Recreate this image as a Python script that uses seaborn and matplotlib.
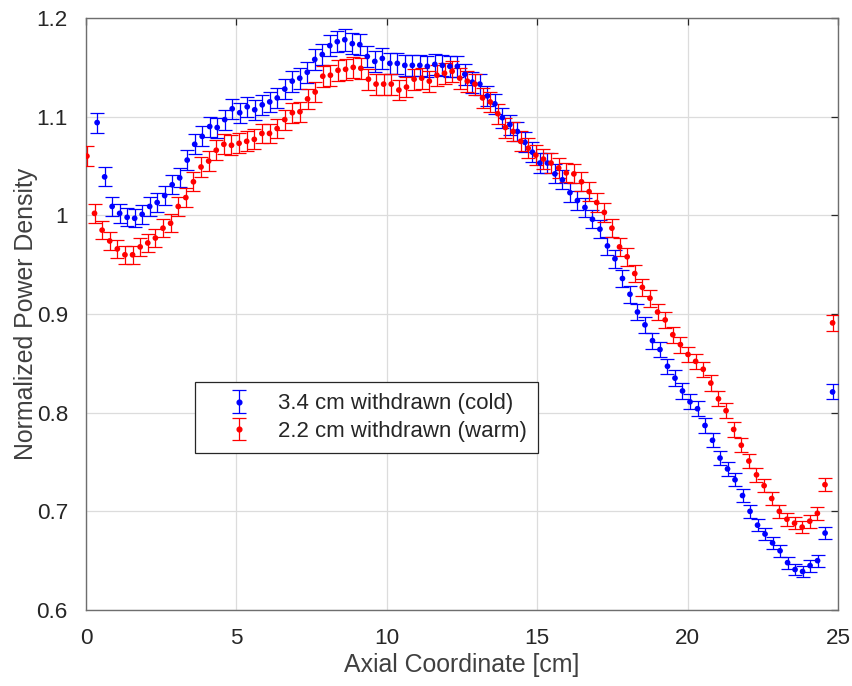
import numpy as np
import pandas as pd
import matplotlib
matplotlib.use("Agg")
import matplotlib.pyplot as plt
import seaborn as sns

# ---- data ----
blue_label = "3.4 cm withdrawn (cold)"
red_label = "2.2 cm withdrawn (warm)"

# sample positions (regular axial mesh, first / last centre)
blue_x_first, blue_x_last, n_blue = 0.37, 24.82, 99
red_x_first, red_x_last, n_red = 0.03, 24.82, 99

blue_y = [
    1.094, 1.039, 1.009, 1.002, 0.998, 0.997, 1.001, 1.009, 1.013, 1.020,
    1.031, 1.038, 1.056, 1.072, 1.080, 1.090, 1.089, 1.097, 1.108, 1.104,
    1.110, 1.107, 1.112, 1.115, 1.119, 1.128, 1.136, 1.139, 1.145, 1.158,
    1.163, 1.172, 1.176, 1.178, 1.174, 1.173, 1.161, 1.156, 1.159, 1.154,
    1.154, 1.152, 1.152, 1.152, 1.151, 1.153, 1.152, 1.151, 1.151, 1.143,
    1.135, 1.133, 1.121, 1.113, 1.099, 1.092, 1.085, 1.074, 1.064, 1.053,
    1.053, 1.042, 1.036, 1.023, 1.015, 1.008, 0.996, 0.986, 0.969, 0.956,
    0.936, 0.920, 0.902, 0.889, 0.873, 0.864, 0.847, 0.835, 0.822, 0.811,
    0.804, 0.787, 0.772, 0.754, 0.743, 0.732, 0.716, 0.700, 0.686, 0.677,
    0.668, 0.660, 0.648, 0.641, 0.639, 0.645, 0.650, 0.678, 0.821,
]
red_y = [
    1.060, 1.002, 0.985, 0.974, 0.966, 0.960, 0.960, 0.968, 0.972, 0.977,
    0.987, 0.992, 1.009, 1.018, 1.034, 1.049, 1.055, 1.066, 1.072, 1.071,
    1.073, 1.075, 1.077, 1.083, 1.083, 1.088, 1.097, 1.104, 1.105, 1.118,
    1.125, 1.141, 1.142, 1.147, 1.148, 1.150, 1.149, 1.138, 1.133, 1.133,
    1.133, 1.127, 1.130, 1.138, 1.139, 1.136, 1.142, 1.144, 1.146, 1.139,
    1.136, 1.133, 1.119, 1.115, 1.103, 1.089, 1.085, 1.075, 1.068, 1.061,
    1.057, 1.053, 1.048, 1.043, 1.042, 1.034, 1.024, 1.013, 1.003, 0.987,
    0.968, 0.958, 0.941, 0.927, 0.916, 0.902, 0.894, 0.879, 0.869, 0.859,
    0.852, 0.844, 0.830, 0.814, 0.802, 0.783, 0.767, 0.751, 0.737, 0.726,
    0.713, 0.700, 0.692, 0.688, 0.684, 0.690, 0.698, 0.727, 0.891,
]
# error bars are roughly proportional to the value (relative uncertainty)
rel_err = 0.0093

x_ticks = [0, 5, 10, 15, 20, 25]
y_ticks = [0.6, 0.7, 0.8, 0.9, 1.0, 1.1, 1.2]
y_ticklabels = ["0.6", "0.7", "0.8", "0.9", "1", "1.1", "1.2"]
x_label = "Axial Coordinate [cm]"
y_label = "Normalized Power Density"

# ---- build tidy table ----
blue_x = np.linspace(blue_x_first, blue_x_last, n_blue)
red_x = np.linspace(red_x_first, red_x_last, n_red)
df = pd.concat([
    pd.DataFrame({"x": blue_x, "y": blue_y, "case": blue_label}),
    pd.DataFrame({"x": red_x, "y": red_y, "case": red_label}),
], ignore_index=True)
df["err"] = rel_err * df["y"]

sns.set_theme(style="whitegrid")
plt.rcParams["font.family"] = ["Liberation Sans", "DejaVu Sans"]

fig = plt.figure(figsize=(8.53, 6.86), dpi=100)
ax = fig.add_axes([86 / 853, 1 - 610 / 686, 752 / 853, 592 / 686])

palette = {blue_label: "#0000ff", red_label: "#ff0000"}
for case in [blue_label, red_label]:
    d = df[df["case"] == case]
    ax.errorbar(d["x"], d["y"], yerr=d["err"], fmt="none",
                ecolor=palette[case], elinewidth=0.9, capsize=5.2,
                capthick=0.9, zorder=3)
sns.scatterplot(data=df, x="x", y="y", hue="case", palette=palette,
                s=17, edgecolor="none", legend=False, ax=ax, zorder=4)

# legend proxies with marker + error bar
proxies = []
for case in [blue_label, red_label]:
    p = ax.errorbar([np.nan], [np.nan], yerr=[0.01], fmt="o", ms=3.4,
                    color=palette[case], ecolor=palette[case], elinewidth=0.9,
                    capsize=5.2, capthick=0.9)
    proxies.append(p)

ax.set_xlim(0, 25)
ax.set_ylim(0.6, 1.2)
ax.set_xticks(x_ticks)
ax.set_yticks(y_ticks)
ax.set_yticklabels(y_ticklabels)
ax.set_xlabel(x_label, fontsize=17.9, color="#404040", labelpad=3)
ax.set_ylabel(y_label, fontsize=17.9, color="#404040", labelpad=-1)

ax.grid(True, color="#dcdcdc", linewidth=0.9)
ax.set_axisbelow(True)
for sp in ax.spines.values():
    sp.set_visible(True)
    sp.set_color("#6e6e6e")
    sp.set_linewidth(1.0)
ax.tick_params(axis="both", which="both", direction="in", length=5,
               width=0.9, color="#262626", labelsize=16.2,
               labelcolor="#262626", top=True, right=True, pad=13)
ax.set_facecolor("white")

leg = ax.legend(proxies, [blue_label, red_label], loc="lower left",
                bbox_to_anchor=(0.145, 0.265), fontsize=16.0, frameon=True,
                fancybox=False, edgecolor="#262626", framealpha=1,
                handlelength=2.95, handletextpad=0.3, borderpad=0.5,
                labelspacing=0.3, borderaxespad=0)
leg.get_frame().set_linewidth(0.9)

fig.savefig("out.png", dpi=100)
